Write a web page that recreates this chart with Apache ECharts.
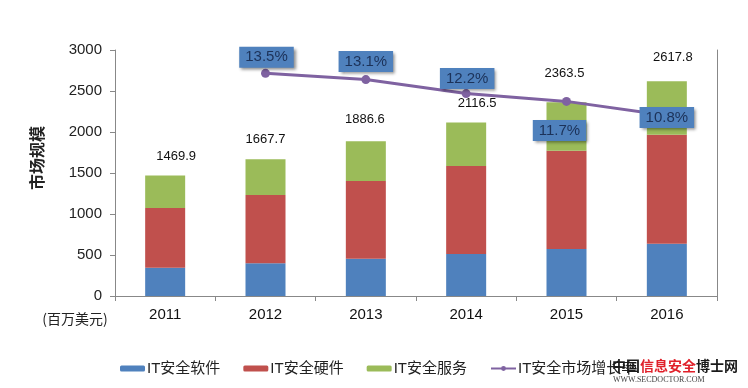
<!DOCTYPE html>
<html>
<head>
<meta charset="utf-8">
<script src="https://cdn.jsdelivr.net/npm/echarts@6/dist/echarts.min.js"></script>
<style>html,body{margin:0;padding:0;background:#fff}#c{width:748px;height:388px}</style>
</head>
<body>
<div id="c"></div>
<script>
const categories = ['2011', '2012', '2013', '2014', '2015', '2016'];
const software = [345, 399, 455, 512, 573, 638];
const hardware = [728, 833, 947, 1073, 1199, 1329];
const services = [396.9, 435.7, 484.6, 531.5, 591.5, 650.8];
const totals = [1469.9, 1667.7, 1886.6, 2116.5, 2363.5, 2617.8];
const growth = [null, 13.5, 13.1, 12.2, 11.7, 10.8];
const seriesNames = ['IT安全软件', 'IT安全硬件', 'IT安全服务', 'IT安全市场增长率'];

const FONT = '"Liberation Sans", Arial, "Noto Sans CJK SC", sans-serif';
const totalOffsets = [[11, -8], [0, -8], [-1, -10], [11, -8], [-2, -17], [6, -12]];
const growthLabelPos = [null, 'top', 'top', 'top', 'bottom', 'inside'];
const growthLabelOffset = [null, [1, -1], [0, -3], [1, 0], [-7, 14], [0, 2]];

const chart = echarts.init(document.getElementById('c'));
const option = {
  backgroundColor: '#ffffff',
  animation: false,
  textStyle: { fontFamily: FONT },
  grid: { left: 115, right: 31, top: 50, bottom: 92 },
  legend: {
    left: 115, top: 356,
    itemWidth: 25, itemHeight: 6, itemGap: 23,
    textStyle: { fontSize: 15, color: '#222', fontFamily: FONT, padding: [0, 0, 0, -3] },
    data: seriesNames
  },
  xAxis: {
    type: 'category',
    data: categories,
    axisLine: { lineStyle: { color: '#888', width: 1 } },
    axisTick: { show: true, length: 5, lineStyle: { color: '#888' } },
    axisLabel: { fontSize: 15, color: '#111', margin: 11, fontFamily: FONT }
  },
  yAxis: [{
    type: 'value', min: 0, max: 3000, interval: 500,
    axisLine: { show: true, lineStyle: { color: '#888', width: 1 } },
    axisTick: { show: true, length: 5, lineStyle: { color: '#888' } },
    axisLabel: { fontSize: 15, color: '#222', margin: 13, fontFamily: FONT, formatter: v => String(v) },
    splitLine: { show: false }
  }, {
    type: 'value', min: -0.8, max: 15,
    axisLine: { show: true, lineStyle: { color: '#888', width: 1 } },
    axisTick: { show: false },
    axisLabel: { show: false },
    splitLine: { show: false }
  }],
  series: [
    {
      name: seriesNames[0], type: 'bar', stack: 'm', barWidth: 40,
      itemStyle: { color: '#4f81bd' }, data: software
    },
    {
      name: seriesNames[1], type: 'bar', stack: 'm', barWidth: 40,
      itemStyle: { color: '#c0504d' }, data: hardware
    },
    {
      name: seriesNames[2], type: 'bar', stack: 'm', barWidth: 40,
      itemStyle: { color: '#9bbb59' },
      data: services.map((v, i) => ({
        value: v,
        label: { offset: totalOffsets[i] }
      })),
      label: {
        show: true, position: 'top', distance: 5,
        fontSize: 13, color: '#111', fontFamily: FONT,
        formatter: p => totals[p.dataIndex].toFixed(1)
      }
    },
    {
      name: seriesNames[3], type: 'line', yAxisIndex: 1,
      symbol: 'circle', symbolSize: 9,
      lineStyle: { color: '#7f62a1', width: 3 },
      itemStyle: { color: '#7f62a1' },
      z: 5,
      data: growth.map((v, i) => v === null ? '-' : ({
        value: v,
        label: { position: growthLabelPos[i], offset: growthLabelOffset[i] }
      })),
      label: {
        show: true, distance: 0,
        formatter: p => p.value.toFixed(1) + '%',
        fontSize: 15, color: '#1c3259', fontFamily: FONT,
        backgroundColor: '#4f81bd',
        padding: [3, 6, 3, 6],
        shadowColor: 'rgba(0,0,0,0.45)', shadowBlur: 3, shadowOffsetX: 2, shadowOffsetY: 2
      }
    }
  ],
  graphic: [
    {
      type: 'text', x: 37, y: 158, rotation: Math.PI / 2,
      style: { text: '市场规模', font: 'bold 16px "Noto Sans CJK SC"', fill: '#222', textAlign: 'center', textVerticalAlign: 'middle' }
    },
    {
      type: 'text', x: 75, y: 319,
      style: { text: '(百万美元)', font: '14px "Noto Sans CJK SC"', fill: '#222', textAlign: 'center', textVerticalAlign: 'middle' }
    },
    {
      type: 'text', x: 612, y: 366, z: 100,
      style: {
        text: '{a|中国}{b|信息安全}{a|博士网}',
        textVerticalAlign: 'middle',
        rich: {
          a: { font: 'bold 14px "Noto Sans CJK SC"', fill: '#1a1a1a' },
          b: { font: 'bold 14px "Noto Sans CJK SC"', fill: '#e0202a' }
        }
      }
    },
    {
      type: 'text', x: 613, y: 380, z: 100,
      style: { text: 'WWW.SECDOCTOR.COM', font: '8px "Liberation Serif", serif', fill: '#444', textVerticalAlign: 'middle' }
    }
  ]
};
chart.setOption(option);
</script>
</body>
</html>
